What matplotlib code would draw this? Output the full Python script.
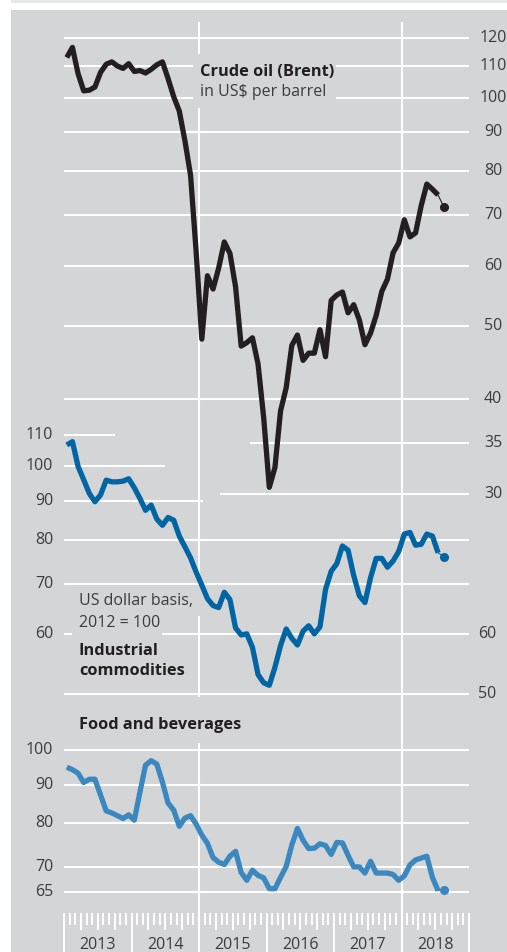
import numpy as np
import matplotlib
matplotlib.use("Agg")
import matplotlib.pyplot as plt
from matplotlib.patches import Rectangle
from matplotlib.transforms import blended_transform_factory as blend

plt.rcParams['font.family'] = ['Open Sans', 'DejaVu Sans']

W, H = 507, 952

# Monthly averages Jan 2013 .. Jul 2018; *_last = latest reading (drawn as a dot)
brent = [113.0, 116.5, 107.6, 102.1, 102.3, 103.3, 108.0, 110.7, 111.5, 110.1, 109.3, 110.9,
         108.3, 108.6, 107.8, 109.0, 110.5, 111.5, 106.0, 100.3, 96.0, 87.7, 79.0, 62.5,
         48.0, 58.2, 55.9, 59.6, 64.5, 62.3, 56.3, 47.0, 47.5, 48.2, 44.5, 37.8,
         30.6, 32.5, 38.6, 41.4, 47.1, 48.6, 45.0, 46.0, 46.0, 49.4, 45.5, 54.0,
         54.9, 55.4, 52.0, 53.3, 50.9, 47.2, 48.9, 51.6, 55.5, 57.6, 62.4, 64.3,
         69.0, 65.5, 66.3, 72.0, 76.9, 75.7, 74.4]
brent_last = 71.8

industrial = [106.7, 107.8, 100.0, 96.0, 92.1, 89.8, 91.7, 95.9, 95.4, 95.4, 95.6, 96.3,
              93.7, 90.7, 87.5, 88.9, 85.2, 83.6, 85.6, 84.9, 80.9, 78.3, 75.7, 72.5,
              69.7, 66.9, 65.5, 65.1, 68.2, 66.7, 61.2, 59.9, 60.1, 57.7, 53.1, 51.8,
              51.4, 54.3, 58.0, 61.0, 59.3, 58.1, 60.6, 61.6, 60.1, 61.4, 68.8, 72.7,
              74.4, 78.5, 77.5, 71.8, 67.5, 66.1, 71.3, 75.6, 75.6, 73.6, 75.0, 77.2,
              81.4, 81.8, 78.7, 78.9, 81.4, 80.9, 76.9]
industrial_last = 76.0

food = [94.9, 94.2, 93.2, 90.6, 91.5, 91.5, 87.2, 83.1, 82.6, 81.9, 81.2, 82.1,
        80.8, 88.0, 95.5, 96.8, 95.8, 90.7, 85.1, 83.3, 79.3, 81.3, 81.9, 79.8,
        77.2, 75.3, 72.1, 71.1, 70.6, 72.4, 73.5, 68.9, 67.3, 69.4, 68.3, 67.8,
        65.6, 65.6, 67.9, 70.2, 74.9, 78.8, 76.0, 74.1, 74.2, 75.2, 74.8, 72.8,
        75.5, 75.4, 72.6, 70.1, 70.1, 68.8, 71.3, 68.8, 68.8, 68.8, 68.5, 67.3,
        68.2, 70.5, 71.6, 72.0, 72.4, 67.9, 65.2]
food_last = 65.4

oil_ticks = [120, 110, 100, 90, 80, 70, 60, 50, 40, 35, 30]
ind_ticks = [110, 100, 90, 80, 70, 60]
ind_ticks_right = [60, 50]
food_ticks = [100, 90, 80, 70, 65]
years = [2013, 2014, 2015, 2016, 2017, 2018]

BG = '#d4d5d7'
OIL = '#231f20'
IND = '#0065a2'
FOOD = '#3a88bf'
TXT = '#3c3c3c'
LW = 3.8
TICK_FS = 11.5
NOTE_FS = 11.5
HEAD_FS = 11.8


def fx(px):
    return px / W


def fy(py):
    return 1 - py / H


x = 2013 + (np.arange(len(brent)) + 0.5) / 12
x_last = 2013 + (len(brent) + 0.5) / 12

fig = plt.figure(figsize=(W / 100, H / 100), dpi=100)
fig.patch.set_facecolor('white')
fig.add_artist(Rectangle((fx(11), 0), 1 - fx(11), fy(10), transform=fig.transFigure,
                         facecolor=BG, edgecolor='none', zorder=-5))
fig.add_artist(Rectangle((fx(11), fy(3)), 1 - fx(11), 3 / H, transform=fig.transFigure,
                         facecolor='#e7e8e9', edgecolor='none', zorder=-5))

# one invisible log axis per series, all sharing the same pixel scale
px_per_year = (469 - 64) / 6
xlim = (2013 - 64 / px_per_year, 2013 + (W - 64) / px_per_year)
K = 329.0  # pixels per ln unit


def make_axis(name, val, py):
    a = fig.add_axes([0, 0, 1, 1], label=name)
    a.set_yscale('log')
    a.set_xlim(*xlim)
    a.set_ylim(val * np.exp(-(H - py) / K), val * np.exp(py / K))
    a.set_facecolor('none')
    a.axis('off')
    return a


ax = make_axis('oil', 120, 37.7)
ax_ind = make_axis('ind', 110, 435)
ax_food = make_axis('food', 100, 750)


def hgrid(a, vals, start=2013.0, end=2019.0):
    for v in vals:
        ax.plot([start, end], [v, v], transform=a.transData, color='white', lw=1.5,
                solid_capstyle='butt', zorder=1)


hgrid(ax, [120, 110, 100, 90, 80, 70, 60, 50, 40])
hgrid(ax, [35], start=2015.75)
hgrid(ax, [30], start=2015.31)
hgrid(ax_ind, [110], end=2013.76)
hgrid(ax_ind, [100], end=2014.50)
hgrid(ax_ind, [90], end=2015.06)
hgrid(ax_ind, [80, 70, 60, 50])
hgrid(ax_food, food_ticks)

xt = ax.get_xaxis_transform()
ax.vlines([2015, 2018], fy(952), fy(22), transform=xt, color='white', lw=1.5, zorder=1)

# month ticks along the bottom
for k in range(73):
    xk = 2013 + k / 12
    if k % 12 == 0:
        bottom = 952
    elif k % 3 == 0:
        bottom = 930
    else:
        bottom = 925
    ax.vlines(xk, fy(bottom), fy(913), transform=xt, color='white', lw=1.4, zorder=1)

# label boxes cut the grid
for (l, t, r, b) in [(193, 54, 336, 108), (72, 585, 201, 616), (72, 612, 162, 640), (72, 697, 250, 743)]:
    ax.add_patch(Rectangle((fx(l), fy(b)), fx(r) - fx(l), (b - t) / H, transform=ax.transAxes,
                           facecolor=BG, edgecolor='none', zorder=2))

# series
ax.plot(x, brent, color=OIL, lw=LW, solid_capstyle='butt', zorder=3)
ax.plot([x[-1], x_last], [brent[-1], brent_last], color=OIL, lw=0.8, zorder=3)
ax.plot([x_last], [brent_last], 'o', color=OIL, ms=5.5, zorder=3)

ax.plot(x, industrial, color=IND, lw=LW, solid_capstyle='butt', zorder=3, transform=ax_ind.transData)
ax.plot([x[-1], x_last], [industrial[-1], industrial_last], color=IND, lw=0.8, zorder=3,
        transform=ax_ind.transData)
ax.plot([x_last], [industrial_last], 'o', color=IND, ms=5.5, zorder=3, transform=ax_ind.transData)

ax.plot(x, food, color=FOOD, lw=LW, solid_capstyle='butt', zorder=3, transform=ax_food.transData)
ax.plot([x[-1], x_last], [food[-1], food_last], color=FOOD, lw=0.8, zorder=3,
        transform=ax_food.transData)
ax.plot([x_last], [food_last], 'o', color=FOOD, ms=5.5, zorder=3, transform=ax_food.transData)

# tick labels
for v in oil_ticks:
    ax.text(fx(493), v, str(v), transform=blend(ax.transAxes, ax.transData),
            ha='center', va='center', fontsize=TICK_FS, color=TXT)
for v in ind_ticks:
    ax.text(fx(53), v, str(v), transform=blend(ax.transAxes, ax_ind.transData),
            ha='right', va='center', fontsize=TICK_FS, color=TXT)
for v in ind_ticks_right:
    ax.text(fx(487), v, str(v), transform=blend(ax.transAxes, ax_ind.transData),
            ha='center', va='center', fontsize=TICK_FS, color=TXT)
for v in food_ticks:
    ax.text(fx(53), v, str(v), transform=blend(ax.transAxes, ax_food.transData),
            ha='right', va='center', fontsize=TICK_FS, color=TXT)
for yr in years:
    ax.text(yr + 0.5, fy(949), str(yr), transform=xt, ha='center', va='baseline',
            fontsize=TICK_FS, color=TXT)

# titles and notes
ax.text(fx(200), fy(76.5), 'Crude oil (Brent)', transform=ax.transAxes, fontsize=HEAD_FS,
        weight='bold', color=OIL, zorder=4)
ax.text(fx(200), fy(96.5), 'in US\\$ per barrel', transform=ax.transAxes, fontsize=NOTE_FS,
        color=TXT, zorder=4)
ax.text(fx(79), fy(605), 'US dollar basis,', transform=ax.transAxes, fontsize=NOTE_FS,
        color=TXT, zorder=4)
ax.text(fx(79), fy(627), '2012 = 100', transform=ax.transAxes, fontsize=NOTE_FS,
        color=TXT, zorder=4)
ax.text(fx(79), fy(655), 'Industrial', transform=ax.transAxes, fontsize=HEAD_FS,
        weight='bold', color=OIL, zorder=4)
ax.text(fx(79), fy(675), 'commodities', transform=ax.transAxes, fontsize=HEAD_FS,
        weight='bold', color=OIL, zorder=4)
ax.text(fx(79), fy(729), 'Food and beverages', transform=ax.transAxes, fontsize=HEAD_FS,
        weight='bold', color=OIL, zorder=4)

fig.savefig('out.png', dpi=100, facecolor=fig.get_facecolor())
